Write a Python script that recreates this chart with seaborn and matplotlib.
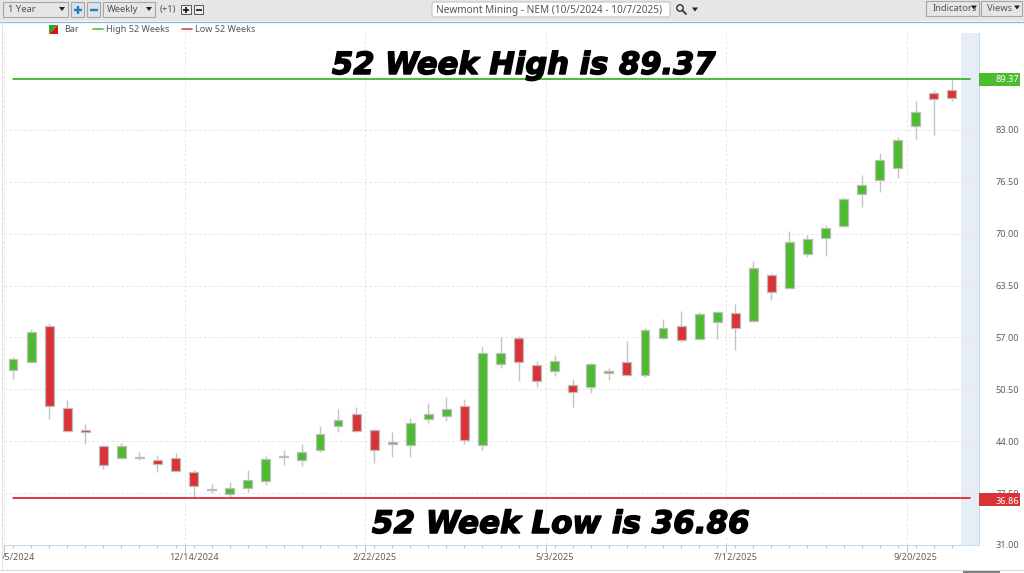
import numpy as np
import pandas as pd
import matplotlib
matplotlib.use('Agg')
import matplotlib.pyplot as plt
import matplotlib.patheffects as pe
from matplotlib.patches import Rectangle, FancyBboxPatch, Polygon, Circle
import seaborn as sns

# weekly bars, oldest first
highs = [54.59, 58.0, 58.75, 49.17, 46.17, 43.55, 43.75, 42.63, 42.25, 42.5, 40.34, 38.67, 38.92,
         40.34, 42.17, 42.92, 43.63, 45.88, 48.05, 48.25, 45.5, 45.13, 46.88, 48.75, 49.59, 49.3,
         55.92, 57.09, 57.17, 54.09, 54.8, 51.75, 53.84, 53.17, 56.59, 58.13, 59.25, 60.34, 60.21,
         60.3, 61.21, 66.55, 65.09, 70.3, 69.84, 71.09, 74.55, 77.3, 80.13, 82.09, 86.63, 88.0, 89.37]
lows = [51.84, 53.88, 46.75, 45.09, 43.59, 40.46, 41.84, 41.59, 40.09, 40.21, 36.92, 37.46, 36.86,
        37.63, 38.55, 41.05, 40.84, 42.67, 45.09, 45.21, 41.21, 41.96, 42.0, 46.34, 46.59, 43.59,
        42.92, 53.13, 51.59, 50.75, 52.21, 48.3, 50.0, 51.71, 52.3, 52.09, 56.88, 56.46, 56.75,
        56.84, 55.38, 59.0, 61.71, 63.13, 67.09, 67.21, 70.88, 73.38, 75.21, 76.96, 81.8, 82.4, 86.66]
body_top = [54.34, 57.63, 58.46, 48.13, 45.42, 43.38, 43.38, 42.0, 41.63, 41.88, 40.13, 38.0, 38.17,
            39.17, 41.71, 42.17, 42.71, 44.88, 46.63, 47.38, 45.42, 43.88, 46.25, 47.42, 48.09, 48.46,
            55.0, 55.09, 56.96, 53.5, 54.0, 51.0, 53.67, 52.8, 53.92, 57.88, 58.21, 58.38, 59.88,
            60.13, 60.0, 65.71, 64.84, 68.96, 69.38, 70.75, 74.38, 76.13, 79.25, 81.71, 85.21, 87.6, 88.0]
body_bot = [52.92, 53.96, 48.38, 45.25, 45.09, 40.96, 41.88, 41.88, 41.13, 40.21, 38.34, 37.84, 37.42,
            38.09, 38.96, 42.05, 41.63, 42.92, 45.96, 45.34, 42.88, 43.67, 43.5, 46.75, 47.21, 44.21,
            43.5, 53.67, 53.92, 51.5, 52.75, 50.13, 50.75, 52.5, 52.34, 52.34, 56.88, 56.71, 56.84,
            58.96, 58.21, 59.05, 62.63, 63.13, 67.46, 69.42, 70.92, 74.96, 76.71, 78.25, 83.46, 86.9, 87.0]
# 1 = up week (green), 0 = down week (red)
up_week = [1, 1, 0, 0, 0, 0, 1, 1, 0, 0, 0, 0, 1, 1, 1, 1, 1, 1, 1, 0, 0, 1, 1, 1, 1, 0,
           1, 1, 0, 0, 1, 0, 1, 1, 0, 1, 1, 0, 1, 1, 0, 1, 0, 1, 1, 1, 1, 1, 1, 1, 1, 0, 0]
price_ticks = [31.0, 37.5, 44.0, 50.5, 57.0, 63.5, 70.0, 76.5, 83.0]
date_labels = ['12/14/2024', '2/22/2025', '5/3/2025', '7/12/2025', '9/20/2025']
date_weeks = [10, 20, 30, 40, 50]
high_52 = 89.37
low_52 = 36.86

GREEN = '#4dbb30'
RED = '#d93237'
EDGE = '#bdbdbd'
GREY_TEXT = '#5f5f5f'

sns.set_theme(style='white')
plt.rcParams['font.family'] = ['Noto Sans', 'DejaVu Sans']

df = pd.DataFrame({'week': range(len(highs)), 'high': highs, 'low': lows,
                   'top': body_top, 'bot': body_bot, 'up': up_week})
df['height'] = df['top'] - df['bot']

W, H = 1024, 573
fig = plt.figure(figsize=(W / 100, H / 100), dpi=100, facecolor='white')
ax = fig.add_axes([4 / W, 1 - 545 / H, 975 / W, 512 / H])

# forecast band + wicks go under the bodies
ax.axvspan(52.5, 53.5, color='#e6edf6', lw=0, zorder=0)
ax.vlines(df['week'], df['low'], df['high'], color='#c4c4c4', lw=1, zorder=2)

for flag, col in [(1, GREEN), (0, RED)]:
    sub = df[df['up'] == flag]
    sns.barplot(data=sub, x='week', y='height', bottom=sub['bot'].values, order=list(df['week']),
                color=col, saturation=1, width=0.49, errorbar=None, edgecolor=EDGE, linewidth=0.9,
                zorder=3, ax=ax)

ax.plot([0, 53], [high_52, high_52], color='#22a800', lw=1.1, zorder=4)
ax.plot([0, 53], [low_52, low_52], color='#e0000f', lw=1.1, zorder=4)

ax.set_xlim(-0.5, 53.5)
ax.set_ylim(31, 95.125)
ax.set_xlabel('')
ax.set_ylabel('')

ax.yaxis.tick_right()
ax.set_yticks(price_ticks)
ax.set_yticklabels(['%.2f' % p for p in price_ticks], fontsize=6.6, color=GREY_TEXT)
ax.tick_params(axis='y', length=0, pad=28.8)
for lab in ax.get_yticklabels():
    lab.set_ha('right')

grid_weeks = [-0.5] + [w - 0.5 for w in date_weeks]
ax.set_xticks(grid_weeks)
ax.set_xticklabels([''] * len(grid_weeks))
ax.set_xticks(df['week'], minor=True)
ax.tick_params(axis='x', which='major', length=5, width=0.7, color='#bbbbbb', bottom=True)
ax.tick_params(axis='x', which='minor', length=2, width=0.7, color='#bbbbbb', bottom=True)
ax.grid(True, axis='both', which='major', color='#e6e6e6', lw=0.7, ls=(0, (3, 2)), zorder=1)
ax.set_axisbelow(True)

for side in ['top', 'left']:
    ax.spines[side].set_visible(False)
for side in ['bottom', 'right']:
    ax.spines[side].set_color('#c5dff2')
    ax.spines[side].set_linestyle((0, (2, 1)))
    ax.spines[side].set_linewidth(0.8)

for w, lab in zip(date_weeks, date_labels):
    ax.annotate(lab, (w, 31), xytext=(0, -8), textcoords='offset pixels', ha='center', va='top',
                fontsize=6.6, color=GREY_TEXT)

# pixel-space overlay for the platform toolbar, tags and the big captions
ov = fig.add_axes([0, 0, 1, 1], facecolor='none')
ov.set_xlim(0, W)
ov.set_ylim(H, 0)
ov.axis('off')


def box(x0, y0, x1, y1, fc='#e6e6e6', ec='#a6a6a6', lw=0.8, z=5):
    ov.add_patch(Rectangle((x0, y0), x1 - x0, y1 - y0, fc=fc, ec=ec, lw=lw, zorder=z))


def label(x, y, s, size=6.5, color='#555555', ha='left', **kw):
    ov.text(x, y, s, fontsize=size, color=color, ha=ha, va='center', zorder=7, **kw)


def arrow(x, y):
    ov.add_patch(Polygon([(x - 3, y - 2), (x + 3, y - 2), (x, y + 2)], fc='#222222', ec='none', zorder=7))


def sign(x, y, r, color, lw, plus=True):
    ov.plot([x - r, x + r], [y, y], color=color, lw=lw, zorder=7, solid_capstyle='butt')
    if plus:
        ov.plot([x, x], [y - r, y + r], color=color, lw=lw, zorder=7, solid_capstyle='butt')


ov.text(2, 557, '/5/2024', fontsize=6.6, color=GREY_TEXT, ha='left', va='center')

# toolbar
box(0, 0, W, 21, fc='#e6e6e6', ec='none', lw=0, z=4)
ov.plot([0, W], [21.5, 21.5], color='#86b6d8', lw=0.9, zorder=5)
box(3, 2, 68, 17)
label(8, 9.5, '1 Year', size=6.8)
arrow(62, 9)
box(71, 2, 84, 17, fc='#dde3e8')
sign(77.5, 10, 4, '#1a7fc4', 1.7)
box(87, 2, 100, 17, fc='#dde3e8')
sign(93.5, 10, 4, '#1a7fc4', 1.7, plus=False)
box(103, 2, 155, 17)
label(107, 9.5, 'Weekly', size=6.8)
arrow(149, 9)
label(160, 9.5, '(+1)', size=6.8)
box(181, 5, 191, 14, fc='#eeeeee', ec='#555555', lw=0.7)
sign(186, 9.5, 3, '#111111', 1.2)
box(194, 5, 203, 14, fc='#eeeeee', ec='#555555', lw=0.7)
sign(198.5, 9.5, 3, '#111111', 1.2, plus=False)

ov.add_patch(FancyBboxPatch((432, 2), 238, 15, boxstyle='round,pad=0,rounding_size=2',
                            fc='white', ec='#c4c4c4', lw=0.8, zorder=5))
label(436, 11, 'Newmont Mining - NEM (10/5/2024 - 10/7/2025)', size=7.25)
ov.add_patch(Circle((680, 8), 3.2, fc='none', ec='#333333', lw=1, zorder=7))
ov.plot([682.5, 686], [10.5, 14], color='#333333', lw=1.3, zorder=7)
arrow(695, 9.5)
box(926, 1, 979, 16)
label(933, 8.5, 'Indicators', size=6.8)
arrow(974, 7.5)
box(981, 1, 1022, 16)
label(987, 8.5, 'Views', size=6.8)
arrow(1017, 7.5)

# legend row
ov.add_patch(Polygon([(49, 25), (58, 25), (49, 34)], fc='#2fa52a', ec='none', zorder=6))
ov.add_patch(Polygon([(58, 25), (58, 34), (49, 34)], fc='#e01010', ec='none', zorder=6))
label(64, 30, 'Bar')
ov.plot([93, 103], [29, 29], color='#6cc24e', lw=1.3, zorder=6)
label(106, 30, 'High 52 Weeks')
ov.plot([182, 192], [29, 29], color='#e0565a', lw=1.3, zorder=6)
label(195, 30, 'Low 52 Weeks')

# price tags on the right axis
box(979, 73, 1020, 86, fc=GREEN, ec='none', lw=0)
label(1019, 79.5, '%.2f' % high_52, size=6.6, color='white', ha='right', weight='bold')
box(979, 493, 1020, 506, fc=RED, ec='none', lw=0)
label(1019, 501, '%.2f' % low_52, size=6.6, color='white', ha='right', weight='bold')

# captions, stroked to get closer to the heavy black face of the original
cap = dict(family='DejaVu Sans', weight='bold', style='italic', color='black', va='baseline', zorder=8,
           path_effects=[pe.withStroke(linewidth=1.1, foreground='black')])
ov.text(332, 74, '52 Week High is %.2f' % high_52, fontsize=22, **cap)
ov.text(372, 533, '52 Week Low is %.2f' % low_52, fontsize=22.3, **cap)

# window frame at the bottom
ov.plot([0, W], [569.5, 569.5], color='#d9d9d9', lw=0.8, zorder=5)
ov.plot([1.5, 1.5], [22, 569], color='#e2e2e2', lw=0.8, zorder=5)
box(963, 571, 1000, 573, fc='#808080', ec='none', lw=0)

fig.savefig('out.png', dpi=100)
